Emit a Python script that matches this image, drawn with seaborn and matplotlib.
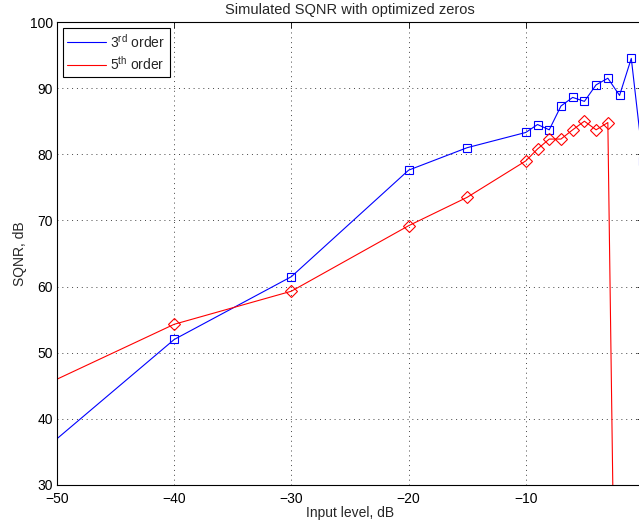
import matplotlib
matplotlib.use("Agg")
import matplotlib.pyplot as plt
from matplotlib.lines import Line2D
import seaborn as sns
import pandas as pd

# Data
x3 = [-50, -40, -30, -20, -15, -10, -9, -8, -7, -6, -5, -4, -3, -2, -1, 0]
y3 = [37.0, 52.0, 61.5, 77.6, 81.0, 83.3, 84.5, 83.7, 87.3, 88.6, 88.0, 90.5, 91.5, 88.9, 94.5, 79.0]
x5 = [-50, -40, -30, -20, -15, -10, -9, -8, -7, -6, -5, -4, -3, -2]
y5 = [46.0, 54.3, 59.3, 69.2, 73.5, 79.0, 80.8, 82.3, 82.3, 83.7, 85.0, 83.7, 84.8, -45.0]
labels = ["3$^{rd}$ order", "5$^{th}$ order"]
title = "Simulated SQNR with optimized zeros"
xlabel = "Input level, dB"
ylabel = "SQNR, dB"
xticks = [-50, -40, -30, -20, -10, 0]
xticklabels = ["\u221250", "\u221240", "\u221230", "\u221220", "\u221210", ""]
yticks = [30, 40, 50, 60, 70, 80, 90, 100]

sns.set_style("white")
plt.rcParams["font.family"] = ["Liberation Sans", "DejaVu Sans"]
plt.rcParams["mathtext.fontset"] = "custom"
plt.rcParams["mathtext.rm"] = "Liberation Sans"
plt.rcParams["mathtext.it"] = "Liberation Sans"

fig = plt.figure(figsize=(6.39, 5.26), dpi=100)
ax = fig.add_axes([57 / 639, 41 / 526, 586 / 639, 463 / 526])

df3 = pd.DataFrame({"x": x3, "y": y3})
df5 = pd.DataFrame({"x": x5, "y": y5})

sns.lineplot(data=df3, x="x", y="y", ax=ax, sort=False, color="blue", lw=0.8,
             marker="s", markersize=6, markerfacecolor="none", markeredgecolor="blue",
             markeredgewidth=0.8, markevery=slice(1, None))
sns.lineplot(data=df5, x="x", y="y", ax=ax, sort=False, color="red", lw=0.8,
             marker="D", markersize=6, markerfacecolor="none", markeredgecolor="red",
             markeredgewidth=0.8, markevery=slice(1, None))

ax.set_xlim(-50, 0)
ax.set_ylim(30, 100)
ax.set_xticks(xticks)
ax.set_yticks(yticks)
ax.set_xticklabels(xticklabels)
ax.tick_params(direction="in", length=4, width=0.6, top=True, right=True,
               labelsize=10, pad=3, colors="black")
ax.tick_params(axis="x", pad=5)
ax.grid(True, linestyle=(0, (1, 4)), color="#444444", linewidth=0.7)
for s in ax.spines.values():
    s.set_color("black")
    s.set_linewidth(0.8)

ax.set_title(title, fontsize=10.5, pad=6)
ax.set_xlabel(xlabel, fontsize=10, labelpad=0)
ax.set_ylabel(ylabel, fontsize=10, labelpad=2)

handles = [Line2D([0], [0], color="blue", lw=0.8),
           Line2D([0], [0], color="red", lw=0.8)]
leg = ax.legend(handles, labels, loc="upper left", fontsize=10, fancybox=False,
                framealpha=1, edgecolor="black", borderaxespad=0.4,
                handlelength=2.75, handletextpad=0.3, labelspacing=0.3,
                borderpad=0.35)
leg.get_frame().set_linewidth(0.8)

fig.savefig("out.png", dpi=100)
